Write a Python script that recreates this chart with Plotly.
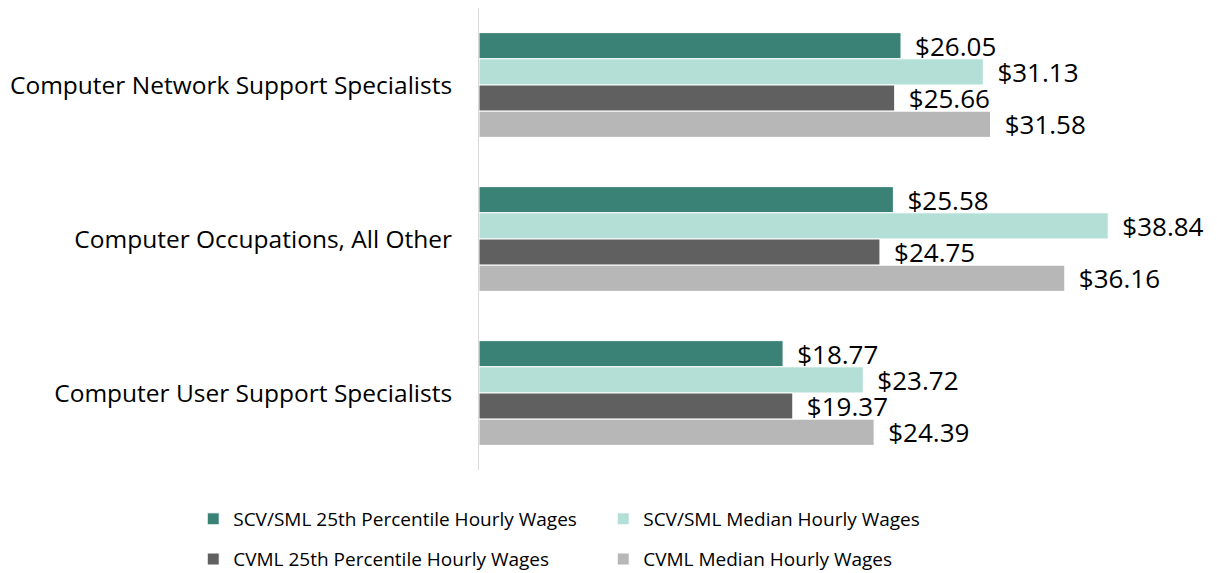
import plotly.graph_objects as go

categories = ["Computer Network Support Specialists",
              "Computer Occupations, All Other",
              "Computer User Support Specialists"]
series_names = ["SCV/SML 25th Percentile Hourly Wages",
                "SCV/SML Median Hourly Wages",
                "CVML 25th Percentile Hourly Wages",
                "CVML Median Hourly Wages"]
scv_25 = [26.05, 25.58, 18.77]
scv_med = [31.13, 38.84, 23.72]
cvml_25 = [25.66, 24.75, 19.37]
cvml_med = [31.58, 36.16, 24.39]

values = [scv_25, scv_med, cvml_25, cvml_med]
colors = ["#3B8276", "#B4DFD7", "#606060", "#B7B7B7"]
legends = ["legend", "legend", "legend2", "legend2"]

FONT = "Open Sans"

fig = go.Figure()
for name, vals, col, lg in zip(series_names, values, colors, legends):
    fig.add_trace(go.Bar(
        y=categories, x=vals, name=name, orientation="h",
        marker=dict(color=col, line=dict(color="white", width=1)),
        text=vals, texttemplate="\u00a0\u2009$%{x:.2f}",
        textposition="outside", constraintext="none", cliponaxis=False,
        textfont=dict(family=FONT, size=26, color="#000000"),
        legend=lg,
    ))

leg_common = dict(orientation="h", xanchor="left", yanchor="middle",
                  entrywidth=365, entrywidthmode="pixels",
                  font=dict(family=FONT, size=19, color="#000000"),
                  itemwidth=30, traceorder="normal",
                  bgcolor="rgba(0,0,0,0)")

fig.update_layout(
    width=1217, height=573,
    margin=dict(l=479, r=9, t=8, b=103, autoexpand=False),
    plot_bgcolor="white", paper_bgcolor="white",
    barmode="group", bargap=0.32, bargroupgap=0,
    font=dict(family=FONT, color="#000000"),
    xaxis=dict(range=[0, 45], showgrid=False, showticklabels=False,
               zeroline=False, showline=False),
    yaxis=dict(autorange="reversed", showline=True, linecolor="#D9D9D9",
               linewidth=1, ticks="", ticklabelstandoff=21,
               tickfont=dict(family=FONT, size=24.5, color="#000000")),
    legend=dict(x=-0.392, y=-0.106, **leg_common),
    legend2=dict(x=-0.392, y=-0.193, **leg_common),
    showlegend=True,
)

fig.write_html("out.html", config={"displayModeBar": False},
               post_script="document.body.style.margin='0';")
